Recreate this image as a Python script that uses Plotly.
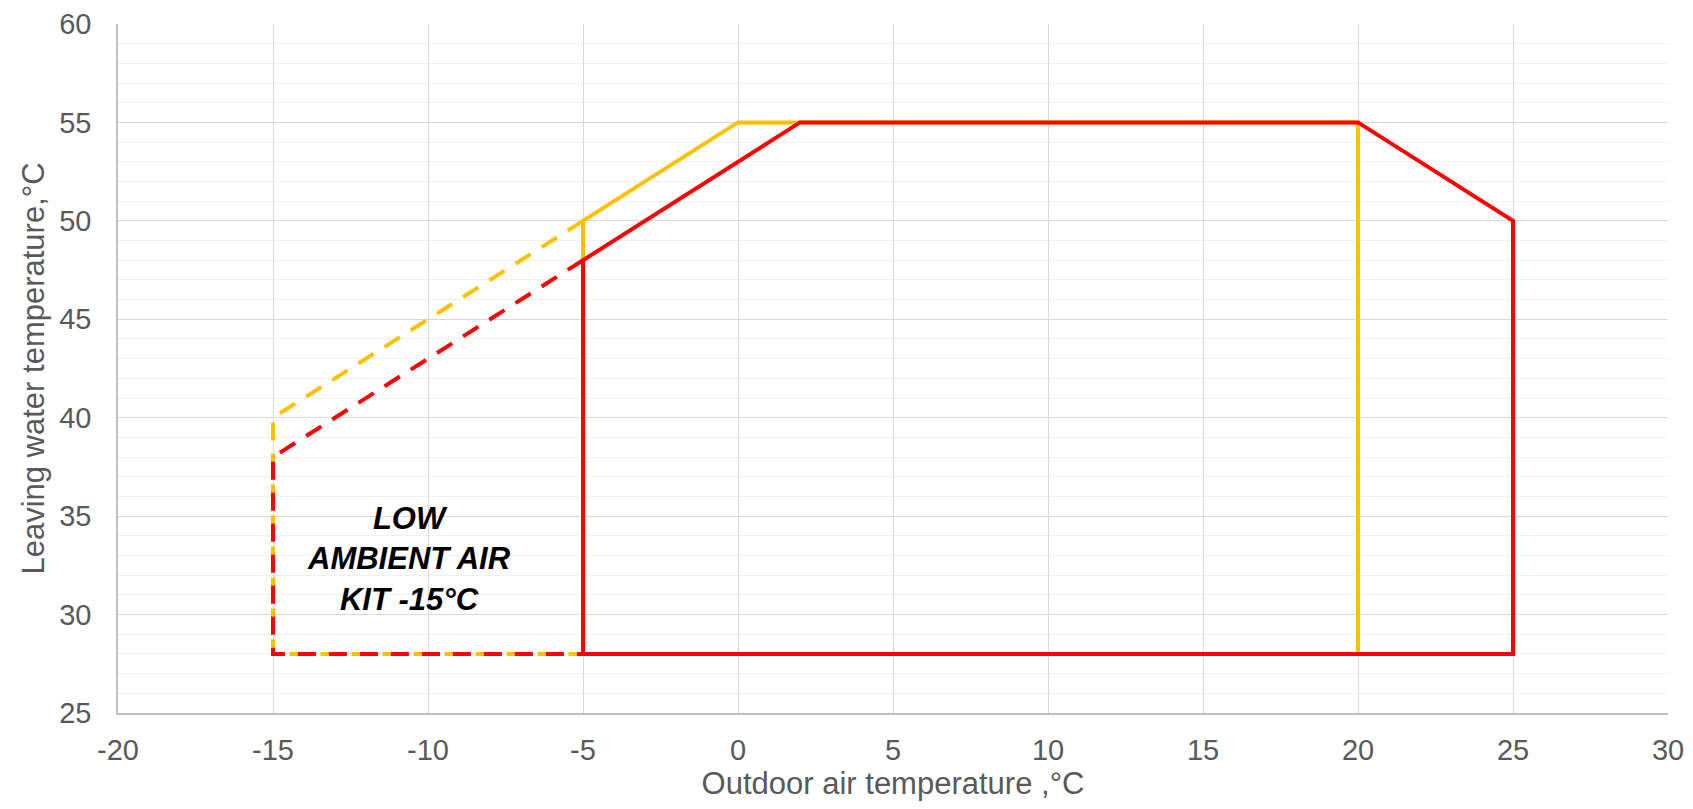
import plotly.graph_objects as go

# Operating envelope data (outdoor air temp, leaving water temp)
yellow_solid_x = [-5, -5, 0, 20, 20, -5]
yellow_solid_y = [28, 50, 55, 55, 28, 28]
yellow_dash_x = [-5, -15, -15, -5]
yellow_dash_y = [50, 40, 28, 28]

red_solid_x = [-5, -5, 2, 20, 25, 25, -5]
red_solid_y = [28, 48, 55, 55, 50, 28, 28]
red_dash_x = [-5, -15, -15, -5]
red_dash_y = [48, 38, 28, 28]

x_range = [-20, 30]
y_range = [25, 60]
x_ticks = [-20, -15, -10, -5, 0, 5, 10, 15, 20, 25, 30]
y_ticks = [25, 30, 35, 40, 45, 50, 55, 60]

label_text = "LOW<br>AMBIENT AIR<br>KIT -15°C"
label_x = -10.6
label_y = 32.8

YELLOW = "#FFC000"
RED = "#FF0000"
FONT = "Liberation Sans, Arial, sans-serif"

fig = go.Figure()
fig.add_trace(go.Scatter(x=yellow_solid_x, y=yellow_solid_y, mode="lines",
                         line=dict(color=YELLOW, width=4), showlegend=False, hoverinfo="skip"))
fig.add_trace(go.Scatter(x=yellow_dash_x, y=yellow_dash_y, mode="lines",
                         line=dict(color=YELLOW, width=4, dash="18px,13px"), showlegend=False, hoverinfo="skip"))
fig.add_trace(go.Scatter(x=red_solid_x, y=red_solid_y, mode="lines",
                         line=dict(color=RED, width=4), showlegend=False, hoverinfo="skip"))
fig.add_trace(go.Scatter(x=red_dash_x, y=red_dash_y, mode="lines",
                         line=dict(color=RED, width=4, dash="18px,13px"), showlegend=False, hoverinfo="skip"))

fig.add_annotation(x=label_x, y=label_y, xref="x", yref="y",
                   text="<b><i>" + label_text + "</i></b>", showarrow=False,
                   font=dict(family=FONT, size=31, color="#000000"), align="center")

# page body has an 8px margin: keep the figure inside the 1693x809 window
fig.update_layout(
    width=1677, height=793,
    margin=dict(l=110, r=17, t=16, b=88, autoexpand=False),
    paper_bgcolor="white", plot_bgcolor="white",
    font=dict(family=FONT, color="#595959"),
)
fig.update_xaxes(
    range=x_range, tickvals=x_ticks, ticktext=[str(v) for v in x_ticks],
    showgrid=True, gridcolor="#d9d9d9", gridwidth=1.3,
    showline=True, linecolor="#bfbfbf", linewidth=1.5,
    zeroline=False, ticks="", ticklabelstandoff=10, ticklabeloverflow="allow",
    tickfont=dict(family=FONT, size=29, color="#595959"),
    title=dict(text="Outdoor air temperature ,°C", standoff=16,
               font=dict(family=FONT, size=31, color="#595959")),
    automargin=False,
)
fig.update_yaxes(
    range=y_range, tickvals=y_ticks, ticktext=[str(v) for v in y_ticks],
    showgrid=True, gridcolor="#d9d9d9", gridwidth=1.3,
    minor=dict(dtick=1, showgrid=True, gridcolor="#f0f0f0", gridwidth=1.3),
    showline=True, linecolor="#bfbfbf", linewidth=1.5,
    zeroline=False, ticks="", ticklabelstandoff=19, ticklabeloverflow="allow",
    tickfont=dict(family=FONT, size=29, color="#595959"),
    title=dict(text="Leaving water temperature,°C", standoff=5,
               font=dict(family=FONT, size=31, color="#595959")),
    automargin=False,
)

fig.write_html("out.html")
